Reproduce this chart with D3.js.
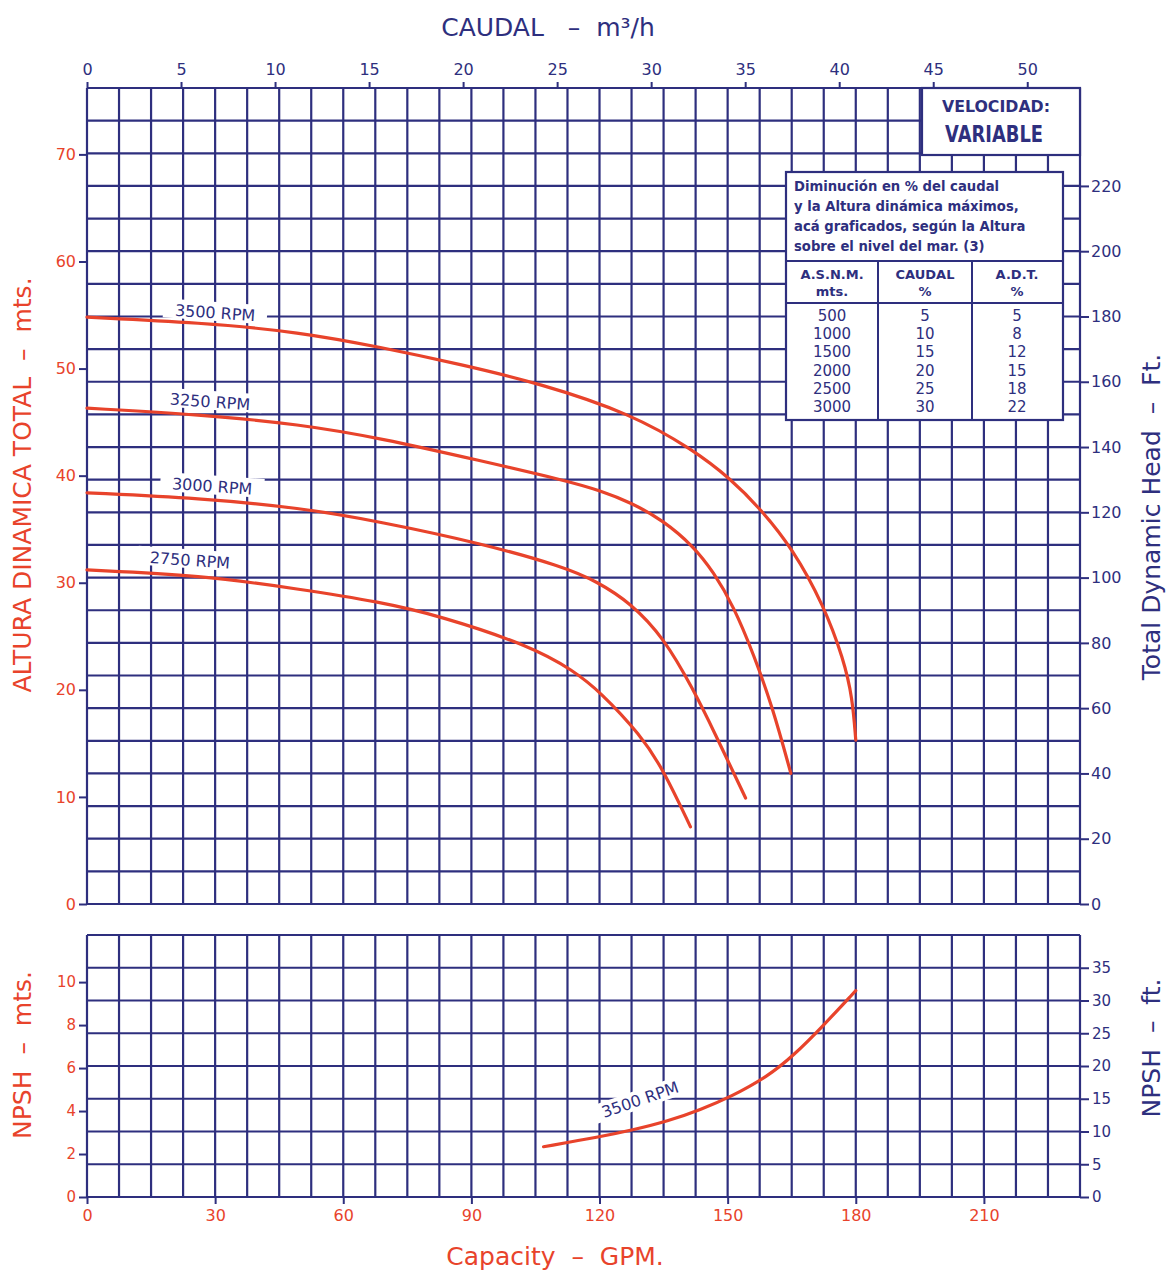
<!DOCTYPE html>
<html lang="es">
<head>
<meta charset="utf-8">
<script src="https://cdn.jsdelivr.net/npm/d3@7"></script>
<style>
  body { margin: 0; background: #fff; }
  text { font-family: "DejaVu Sans", sans-serif; }
</style>
</head>
<body>
<svg id="chart" width="1169" height="1273"></svg>
<script>
"use strict";

// --- data (x in GPM, y in metres) ---
const gpmTicks   = [0, 30, 60, 90, 120, 150, 180, 210];
const m3hTicks   = [0, 5, 10, 15, 20, 25, 30, 35, 40, 45, 50];
const headMTicks = [0, 10, 20, 30, 40, 50, 60, 70];
const headFtTicks = [0, 20, 40, 60, 80, 100, 120, 140, 160, 180, 200, 220];
const npshMTicks = [0, 2, 4, 6, 8, 10];
const npshFtTicks = [0, 5, 10, 15, 20, 25, 30, 35];

const rpm3500 = [[0, 54.8], [26.5, 54.3], [49.9, 53.4], [68.7, 52.0], [87.4, 50.4], [106.2, 48.6],
  [127.3, 45.8], [142.0, 42.4], [150.7, 39.7], [157.7, 36.9], [165.2, 33.2], [172.5, 27.9],
  [177.2, 22.8], [179.2, 19.3], [180.0, 15.3]];
const rpm3250 = [[0, 46.3], [26.5, 45.7], [49.9, 44.8], [68.7, 43.5], [92.1, 41.4], [112.5, 39.5],
  [120.2, 38.6], [127.3, 37.5], [135.0, 35.8], [142.0, 33.4], [146.7, 31.0], [151.4, 27.8],
  [156.1, 23.3], [160.5, 18.4], [164.8, 12.2]];
const rpm3000 = [[0, 38.4], [26.5, 37.9], [49.9, 37.0], [68.7, 35.7], [92.1, 33.7], [111.6, 31.5],
  [119.5, 30.1], [127.3, 28.1], [135.0, 24.9], [142.0, 20.0], [146.7, 16.2], [154.2, 9.9]];
const rpm2750 = [[0, 31.2], [26.5, 30.7], [49.9, 29.4], [68.7, 28.2], [82.7, 26.9], [103.8, 24.1],
  [113.9, 21.8], [120.2, 19.8], [129.6, 15.8], [135.0, 12.5], [141.3, 7.2]];
const npsh3500 = [[106.9, 2.34], [120.2, 2.80], [128.0, 3.13], [135.9, 3.52], [143.7, 4.07],
  [150.7, 4.66], [159.4, 5.61], [165.5, 6.60], [171.8, 7.85], [180.0, 9.6]];

const curveLabels = ["3500 RPM", "3250 RPM", "3000 RPM", "2750 RPM"];
const altitudeRows = ["500", "1000", "1500", "2000", "2500", "3000"];
const flowDropPct  = ["5", "10", "15", "20", "25", "30"];
const headDropPct  = ["5", "8", "12", "15", "18", "22"];

const NAVY = "#2e2f7e", RED = "#e8432b";
const FT = 0.3048, GPM_M3H = 0.22712;

const svg = d3.select("#chart");

// --- scales ---
const x = d3.scaleLinear().domain([0, 232.5]).range([87, 1080]);
const xM3h = d3.scaleLinear().domain([0, 232.5 * GPM_M3H]).range([87, 1080]);
const yFt = d3.scaleLinear().domain([0, 250]).range([904, 88]);
const yM = d3.scaleLinear().domain([0, 250 * FT]).range([904, 88]);
const yFt2 = d3.scaleLinear().domain([0, 40]).range([1197, 935]);
const yM2 = d3.scaleLinear().domain([0, 40 * FT]).range([1197, 935]);

function grid(g, yScale, ftStep, ftMax) {
  const xs = d3.range(0, 232.5 + 0.1, 7.5);
  const ys = d3.range(0, ftMax + 0.1, ftStep);
  g.selectAll(".v").data(xs).join("line")
    .attr("x1", d => x(d)).attr("x2", d => x(d))
    .attr("y1", yScale(0)).attr("y2", yScale(ftMax));
  g.selectAll(".h").data(ys).join("line")
    .attr("x1", x(0)).attr("x2", x(232.5))
    .attr("y1", d => yScale(d)).attr("y2", d => yScale(d));
  g.attr("stroke", NAVY).attr("stroke-width", 2.2);
}

function styleAxis(g, color, size) {
  g.select(".domain").remove();
  g.selectAll(".tick line").attr("stroke", NAVY).attr("stroke-width", 2);
  g.selectAll(".tick text").attr("fill", color).attr("font-size", size)
    .attr("font-family", "DejaVu Sans, sans-serif");
}

// --- top chart ---
grid(svg.append("g"), yFt, 10, 250);

svg.append("g").attr("transform", "translate(0,88)")
  .call(d3.axisTop(xM3h).tickValues(m3hTicks).tickSize(6).tickPadding(7))
  .call(g => styleAxis(g, NAVY, 16));
svg.append("g").attr("transform", "translate(87,0)")
  .call(d3.axisLeft(yM).tickValues(headMTicks).tickSize(8).tickPadding(3))
  .call(g => styleAxis(g, RED, 16));
svg.append("g").attr("transform", "translate(1080,0)")
  .call(d3.axisRight(yFt).tickValues(headFtTicks).tickSize(9).tickPadding(2))
  .call(g => styleAxis(g, NAVY, 16));

const line = d3.line().x(d => x(d[0])).y(d => yM(d[1])).curve(d3.curveBasis);
[rpm3500, rpm3250, rpm3000, rpm2750].forEach(s => {
  svg.append("path").attr("d", line(s)).attr("fill", "none")
    .attr("stroke", RED).attr("stroke-width", 3.2).attr("stroke-linecap", "round");
});

// curve labels sit just above each curve start
const labelAt = [[30, 55.2], [28.8, 46.9], [29.3, 39.0], [24.1, 32.1]];
curveLabels.forEach((t, i) => {
  const g = svg.append("g")
    .attr("transform", `translate(${x(labelAt[i][0])},${yM(labelAt[i][1])}) rotate(4)`);
  g.append("rect").attr("x", -52).attr("y", -11).attr("width", 104).attr("height", 19).attr("fill", "#fff");
  g.append("text").attr("text-anchor", "middle").attr("dy", "0.35em")
    .attr("fill", NAVY).attr("font-size", 16).text(t);
});

// VELOCIDAD box
const vb = svg.append("g");
vb.append("rect").attr("x", 922).attr("y", 88).attr("width", 158).attr("height", 67)
  .attr("fill", "#fff").attr("stroke", NAVY).attr("stroke-width", 2.2);
vb.append("text").attr("x", 996).attr("y", 112).attr("text-anchor", "middle")
  .attr("fill", NAVY).attr("font-size", 15).attr("font-weight", "bold")
  .attr("textLength", 108).attr("lengthAdjust", "spacingAndGlyphs").text("VELOCIDAD:");
vb.append("text").attr("x", 994).attr("y", 142).attr("text-anchor", "middle")
  .attr("fill", NAVY).attr("font-size", 23).attr("font-weight", "bold")
  .attr("textLength", 98).attr("lengthAdjust", "spacingAndGlyphs").text("VARIABLE");

// altitude table
const tb = svg.append("g");
tb.append("rect").attr("x", 786).attr("y", 172).attr("width", 277).attr("height", 248)
  .attr("fill", "#fff").attr("stroke", NAVY).attr("stroke-width", 2.2);
[261, 303].forEach(yy => tb.append("line").attr("x1", 786).attr("x2", 1063)
  .attr("y1", yy).attr("y2", yy).attr("stroke", NAVY).attr("stroke-width", 2));
[878, 972].forEach(xx => tb.append("line").attr("x1", xx).attr("x2", xx)
  .attr("y1", 261).attr("y2", 420).attr("stroke", NAVY).attr("stroke-width", 2));
const noteLines = ["Diminución en % del caudal", "y la Altura dinámica máximos,",
  "acá graficados, según la Altura", "sobre el nivel del mar. (3)"];
noteLines.forEach((t, i) => tb.append("text").attr("x", 794).attr("y", 191 + i * 20)
  .attr("fill", NAVY).attr("font-size", 13.2).attr("font-weight", "bold")
  .attr("font-family", "Liberation Sans, sans-serif").text(t));
const heads = [["A.S.N.M.", "mts."], ["CAUDAL", "%"], ["A.D.T.", "%"]];
const colX = [832, 925, 1017];
heads.forEach((h, i) => h.forEach((t, j) => tb.append("text").attr("x", colX[i])
  .attr("y", 279 + j * 17).attr("text-anchor", "middle").attr("fill", NAVY)
  .attr("font-size", 13).attr("font-weight", "bold")
  .attr("font-family", "Liberation Sans, sans-serif").text(t)));
[altitudeRows, flowDropPct, headDropPct].forEach((col, i) => col.forEach((t, j) =>
  tb.append("text").attr("x", colX[i]).attr("y", 321 + j * 18.2).attr("text-anchor", "middle")
    .attr("fill", NAVY).attr("font-size", 15).attr("font-family", "Liberation Sans, sans-serif").text(t)));

// --- bottom chart ---
grid(svg.append("g"), yFt2, 5, 40);

svg.append("g").attr("transform", "translate(0,1197)")
  .call(d3.axisBottom(x).tickValues(gpmTicks).tickSize(7).tickPadding(6))
  .call(g => styleAxis(g, RED, 16));
svg.append("g").attr("transform", "translate(87,0)")
  .call(d3.axisLeft(yM2).tickValues(npshMTicks).tickSize(8).tickPadding(3))
  .call(g => styleAxis(g, RED, 15));
svg.append("g").attr("transform", "translate(1080,0)")
  .call(d3.axisRight(yFt2).tickValues(npshFtTicks).tickSize(9).tickPadding(3))
  .call(g => styleAxis(g, NAVY, 15));

const line2 = d3.line().x(d => x(d[0])).y(d => yM2(d[1])).curve(d3.curveBasis);
svg.append("path").attr("d", line2(npsh3500)).attr("fill", "none")
  .attr("stroke", RED).attr("stroke-width", 3.2).attr("stroke-linecap", "round");

const nl = svg.append("g").attr("transform", `translate(${x(129.5)},${yM2(4.53)}) rotate(-19)`);
nl.append("rect").attr("x", -52).attr("y", -10).attr("width", 104).attr("height", 19).attr("fill", "#fff");
nl.append("text").attr("text-anchor", "middle").attr("dy", "0.35em")
  .attr("fill", NAVY).attr("font-size", 16).text("3500 RPM");

// --- titles ---
svg.append("text").attr("x", 548).attr("y", 36).attr("text-anchor", "middle")
  .attr("fill", NAVY).attr("font-size", 25).attr("xml:space", "preserve")
  .text("CAUDAL   –  m³/h");
svg.append("text").attr("x", 555).attr("y", 1265).attr("text-anchor", "middle")
  .attr("fill", RED).attr("font-size", 25).attr("xml:space", "preserve")
  .text("Capacity  –  GPM.");
svg.append("text").attr("transform", "translate(31,485) rotate(-90)").attr("text-anchor", "middle")
  .attr("fill", RED).attr("font-size", 25).attr("xml:space", "preserve")
  .text("ALTURA DINAMICA TOTAL  –  mts.");
svg.append("text").attr("transform", "translate(1160,517) rotate(-90)").attr("text-anchor", "middle")
  .attr("fill", NAVY).attr("font-size", 25).attr("xml:space", "preserve")
  .text("Total Dynamic Head  –  Ft.");
svg.append("text").attr("transform", "translate(31,1055) rotate(-90)").attr("text-anchor", "middle")
  .attr("fill", RED).attr("font-size", 25).attr("xml:space", "preserve")
  .text("NPSH  –  mts.");
svg.append("text").attr("transform", "translate(1160,1048) rotate(-90)").attr("text-anchor", "middle")
  .attr("fill", NAVY).attr("font-size", 25).attr("xml:space", "preserve")
  .text("NPSH  –  ft.");
</script>
</body>
</html>
